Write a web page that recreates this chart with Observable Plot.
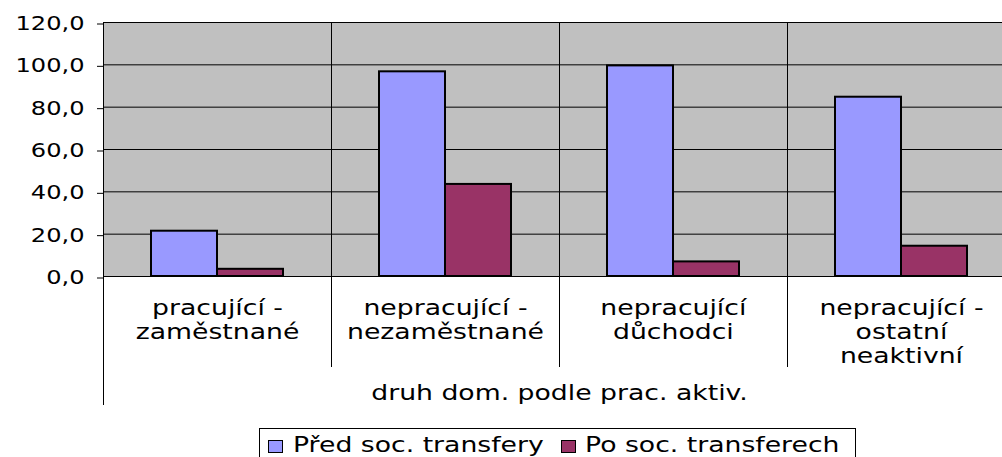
<!DOCTYPE html>
<html><head><meta charset="utf-8">
<script src="https://cdn.jsdelivr.net/npm/d3@7"></script>
<script src="https://cdn.jsdelivr.net/npm/@observablehq/plot@0.6"></script>
<style>
html,body{margin:0;padding:0;background:#fff;overflow:hidden;}
#wrap{position:relative;width:1002px;height:457px;overflow:hidden;font-family:"DejaVu Sans",sans-serif;}
#chart svg{display:block;}
#legend{position:absolute;left:259px;top:428px;width:597px;height:44px;border:1px solid #000;box-sizing:border-box;color:#000;white-space:nowrap;}
#legend .sw{position:absolute;top:11px;width:15px;height:13px;box-sizing:border-box;border:1.5px solid #000;}
#legend .tx{position:absolute;top:4px;font-size:21px;line-height:24px;transform:scaleX(1.27);transform-origin:0 50%;}
</style></head><body>
<div id="wrap"><div id="chart"></div><div id="legend"></div></div>
<script>
const categories = ["pracující -\nzaměstnané", "nepracující -\nnezaměstnané", "nepracující\ndůchodci", "nepracující -\nostatní\nneaktivní"];
const series = ["Před soc. transfery", "Po soc. transferech"];
const predValues = [21.4, 96.7, 99.5, 84.7];
const poValues = [3.4, 43.5, 6.9, 14.3];
const yTicks = [0, 20, 40, 60, 80, 100, 120];
const axisTitle = "druh dom. podle prac. aktiv.";
const colors = ["#9999FF", "#993366"];

const data = categories.flatMap((c, i) => [
  {category: c, series: series[0], value: predValues[i]},
  {category: c, series: series[1], value: poValues[i]}
]);
const fmt = d => d.toFixed(1).replace(".", ",");
const SX = 1.27; // horizontal stretch of the reference lettering

const chart = Plot.plot({
  width: 1002, height: 420,
  marginLeft: 103, marginRight: -13, marginTop: 22, marginBottom: 144,
  style: {fontFamily: "DejaVu Sans", fontSize: "19px", color: "#000", background: "transparent", overflow: "hidden"},
  fx: {domain: categories, padding: 0, axis: null},
  x: {domain: series, paddingInner: 0, paddingOuter: 0.72, axis: null},
  y: {domain: [0, 120], label: null},
  color: {domain: series, range: colors},
  marks: [
    Plot.frame({fill: "#C0C0C0"}),
    Plot.gridY(yTicks, {stroke: "#000", strokeOpacity: 1, strokeWidth: 1}),
    Plot.barY(data, {fx: "category", x: "series", y: "value", fill: "series", stroke: "#000", strokeWidth: 2}),
    Plot.axisY(yTicks, {tickSize: 6, tickPadding: 13, tickFormat: fmt, fontSize: 19, dy: 1.5, label: null}),
    Plot.text(categories, {fx: d => d, text: d => d, frameAnchor: "bottom", lineAnchor: "top", dy: 21, lineHeight: 1.143, fontSize: 21, fill: "#000"}),
    Plot.text([axisTitle], {facet: "super", text: d => d, frameAnchor: "bottom", lineAnchor: "top", dy: 109, fontSize: 21, fill: "#000"})
  ]
});
document.getElementById("chart").appendChild(chart);

// stretch every label horizontally around its anchor point
chart.querySelectorAll("text").forEach(t => {
  const b = t.getBBox();
  const anchor = getComputedStyle(t).textAnchor;
  const ax = anchor === "end" ? b.x + b.width : anchor === "middle" ? b.x + b.width / 2 : b.x;
  const tr = t.getAttribute("transform") || "";
  t.setAttribute("transform", `${tr} translate(${ax},0) scale(${SX},1) translate(${-ax},0)`);
});

// category separators and extended left axis, positioned through Plot's scales
const fxS = chart.scale("fx"), yS = chart.scale("y");
const svg = d3.select(chart);
const g = svg.append("g").attr("stroke", "#000").attr("stroke-width", 1);
const topY = yS.apply(120), baseY = yS.apply(0);
categories.forEach((c, i) => {
  const x = Math.round(fxS.apply(c)) + 0.5;
  g.append("line").attr("x1", x).attr("x2", x).attr("y1", topY).attr("y2", baseY + (i === 0 ? 129 : 91));
});

const legend = d3.select("#legend");
const swLeft = [8, 301], txLeft = [33, 325];
series.forEach((s, i) => {
  legend.append("span").attr("class", "sw").style("left", swLeft[i] + "px").style("background", colors[i]);
  legend.append("span").attr("class", "tx").style("left", txLeft[i] + "px").text(s);
});
</script>
</body></html>
